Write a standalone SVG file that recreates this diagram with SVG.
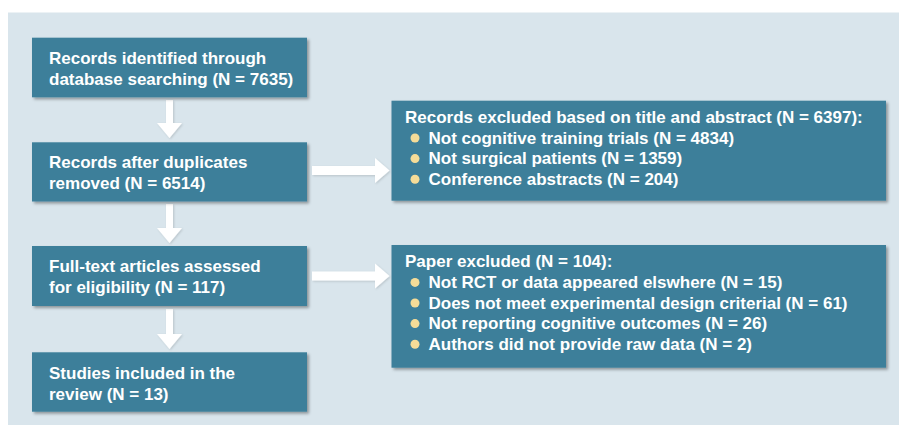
<svg xmlns="http://www.w3.org/2000/svg" width="899" height="425" viewBox="0 0 899 425">
  <defs>
    <filter id="shadow" x="-5%" y="-10%" width="112%" height="125%">
      <feDropShadow dx="2" dy="2" stdDeviation="1.4" flood-color="#000" flood-opacity="0.35"/>
    </filter>
    <filter id="arrowShadow" x="-20%" y="-20%" width="140%" height="140%">
      <feDropShadow dx="1" dy="1" stdDeviation="0.8" flood-color="#000" flood-opacity="0.15"/>
    </filter>
  </defs>
  <style>
    .panel { fill: #d9e5ec; }
    .box { fill: #3d7f9a; filter: url(#shadow); }
    .label { font-family: "Liberation Sans", Arial, Helvetica, sans-serif; font-size: 17px; font-weight: bold; fill: #ffffff; }
    .bullet { fill: #f5dc98; }
    .arrow { fill: #ffffff; filter: url(#arrowShadow); }
  </style>

  <!-- background -->
  <rect x="0" y="0" width="899" height="425" fill="#ffffff"/>
  <rect class="panel" x="8" y="12.5" width="891" height="413"/>

  <!-- connectors -->
  <g id="connectors">
    <path class="arrow" d="M166,100 H173 V123 H182 L169.5,138 L157,123 H166 Z"/>
    <path class="arrow" d="M166,204 H173 V228 H182 L169.5,243 L157,228 H166 Z"/>
    <path class="arrow" d="M166,309 H173 V334 H182 L169.5,349 L157,334 H166 Z"/>
    <path class="arrow" d="M312,166 H375 V158 L389.5,170.5 L375,183 V175 H312 Z"/>
    <path class="arrow" d="M312,271.5 H375 V263.5 L389.5,276 L375,288.5 V280.5 H312 Z"/>
  </g>

  <!-- main flow -->
  <g id="identified">
    <rect class="box" x="32" y="37.7" width="275" height="59.6"/>
    <text class="label" x="49" y="63.5">Records identified through</text>
    <text class="label" x="49" y="84.5">database searching (N = 7635)</text>
  </g>

  <g id="deduplicated">
    <rect class="box" x="32" y="142.3" width="275" height="59.2"/>
    <text class="label" x="49" y="167.5">Records after duplicates</text>
    <text class="label" x="49" y="188.5">removed (N = 6514)</text>
  </g>

  <g id="fulltext">
    <rect class="box" x="32" y="246" width="275" height="60"/>
    <text class="label" x="49" y="272">Full-text articles assessed</text>
    <text class="label" x="49" y="293">for eligibility (N = 117)</text>
  </g>

  <g id="included">
    <rect class="box" x="32" y="352.3" width="275" height="59.4"/>
    <text class="label" x="49" y="378.5">Studies included in the</text>
    <text class="label" x="49" y="399.5">review (N = 13)</text>
  </g>

  <!-- exclusions -->
  <g id="excluded-screening">
    <rect class="box" x="391.5" y="100.7" width="494.5" height="100"/>
    <text class="label" x="405" y="123">Records excluded based on title and abstract (N = 6397):</text>
    <circle class="bullet" cx="415" cy="138" r="4.5"/>
    <text class="label" x="428.5" y="143.6">Not cognitive training trials (N = 4834)</text>
    <circle class="bullet" cx="415" cy="158.6" r="4.5"/>
    <text class="label" x="428.5" y="164.2">Not surgical patients (N = 1359)</text>
    <circle class="bullet" cx="415" cy="179.2" r="4.5"/>
    <text class="label" x="428.5" y="184.8">Conference abstracts (N = 204)</text>
  </g>

  <g id="excluded-fulltext">
    <rect class="box" x="391.5" y="245" width="494.5" height="122.7"/>
    <text class="label" x="405" y="267.3">Paper excluded (N = 104):</text>
    <circle class="bullet" cx="415" cy="282.4" r="4.5"/>
    <text class="label" x="428.5" y="288">Not RCT or data appeared elswhere (N = 15)</text>
    <circle class="bullet" cx="415" cy="303" r="4.5"/>
    <text class="label" x="428.5" y="308.6">Does not meet experimental design criterial (N = 61)</text>
    <circle class="bullet" cx="415" cy="323.6" r="4.5"/>
    <text class="label" x="428.5" y="329.2">Not reporting cognitive outcomes (N = 26)</text>
    <circle class="bullet" cx="415" cy="344.2" r="4.5"/>
    <text class="label" x="428.5" y="349.8">Authors did not provide raw data (N = 2)</text>
  </g>
</svg>
